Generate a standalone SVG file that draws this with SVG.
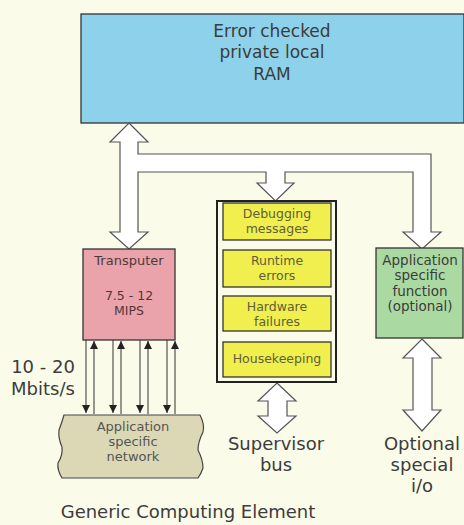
<svg xmlns="http://www.w3.org/2000/svg" width="464" height="525" viewBox="0 0 464 525">
<style>
  text { font-family: "DejaVu Sans", "Liberation Sans", sans-serif; text-anchor: middle; fill: #3c3c3c; }
  .big { font-size: 18px; }
  .ram { font-size: 17px; }
  .sm { font-size: 13px; }
  .yl { font-size: 12.5px; fill: #5e5e3a; }
  .box { stroke: #333; stroke-width: 1.3; }
  .bus { fill: #ffffff; stroke: #555; stroke-width: 1.2; stroke-linejoin: miter; }
  .link { stroke: #333; stroke-width: 1; fill: none; }
</style>
<defs>
  <marker id="ah" viewBox="0 0 8 8" refX="8" refY="4" markerWidth="8" markerHeight="8" markerUnits="userSpaceOnUse" orient="auto">
    <path d="M0,0 L8,4 L0,8 Z" fill="#222"/>
  </marker>
</defs>
<rect x="0" y="0" width="464" height="525" fill="#fbfbea"/>

<g id="ram">
  <rect class="box" x="81" y="14" width="383" height="109" fill="#8dd2ea"/>
  <text class="ram" x="272" y="37">Error checked</text>
  <text class="ram" x="272" y="58">private local</text>
  <text class="ram" x="272" y="80">RAM</text>
</g>

<g id="connectors">
  <path class="bus" d="M129,123 L148,142 L138,142 L138,154 L431,154 L431,232 L441,232 L422,249 L403,232 L413,232 L413,172 L285,172 L285,183 L294,183 L275.5,201 L257,183 L266,183 L266,172 L138,172 L138,232 L148,232 L129,249 L110,232 L120,232 L120,142 L110,142 Z"/>
  <path class="bus" d="M277,383 L296,401 L287,401 L287,416 L296,416 L277,433 L258,416 L268,416 L268,401 L258,401 Z"/>
  <path class="bus" d="M422,339 L441,358 L432,358 L432,410 L441,410 L422,431 L403,410 L413,410 L413,358 L403,358 Z"/>
  <line class="link" x1="86" y1="340" x2="86" y2="413" marker-end="url(#ah)"/>
  <line class="link" x1="94" y1="414" x2="94" y2="341" marker-end="url(#ah)"/>
  <line class="link" x1="113" y1="340" x2="113" y2="413" marker-end="url(#ah)"/>
  <line class="link" x1="121" y1="414" x2="121" y2="341" marker-end="url(#ah)"/>
  <line class="link" x1="140" y1="340" x2="140" y2="413" marker-end="url(#ah)"/>
  <line class="link" x1="148" y1="414" x2="148" y2="341" marker-end="url(#ah)"/>
  <line class="link" x1="167" y1="340" x2="167" y2="413" marker-end="url(#ah)"/>
  <line class="link" x1="175" y1="414" x2="175" y2="341" marker-end="url(#ah)"/>
</g>

<g id="transputer">
  <rect class="box" x="83" y="249" width="92" height="91" fill="#eaa3ab"/>
  <text class="sm" x="129" y="265" style="fill:#503838">Transputer</text>
  <text class="sm" x="129" y="300" style="fill:#503838;font-size:12.5px">7.5 - 12</text>
  <text class="sm" x="129" y="315" style="fill:#503838;font-size:12.5px">MIPS</text>
</g>

<g id="supervisor">
  <rect x="217" y="201" width="119" height="181" fill="#fbfbea" stroke="#222" stroke-width="2"/>
</g>
<g id="debugging">
  <rect class="box" x="223" y="203" width="108" height="37" fill="#f1ef4e"/>
  <text class="yl" x="277" y="218">Debugging</text>
  <text class="yl" x="277" y="233">messages</text>
</g>
<g id="runtime">
  <rect class="box" x="223" y="250" width="108" height="37" fill="#f1ef4e"/>
  <text class="yl" x="277" y="265">Runtime</text>
  <text class="yl" x="277" y="280">errors</text>
</g>
<g id="hardware">
  <rect class="box" x="223" y="296" width="108" height="35" fill="#f1ef4e"/>
  <text class="yl" x="277" y="311">Hardware</text>
  <text class="yl" x="277" y="326">failures</text>
</g>
<g id="housekeeping">
  <rect class="box" x="223" y="342" width="108" height="35" fill="#f1ef4e"/>
  <text class="yl" x="277" y="363">Housekeeping</text>
</g>

<g id="appfunc">
  <rect class="box" x="376" y="248" width="87" height="90" fill="#abd9a2"/>
  <text class="sm" x="420" y="265" style="font-size:13.5px">Application</text>
  <text class="sm" x="420" y="280" style="font-size:13.5px">specific</text>
  <text class="sm" x="420" y="296" style="font-size:13.5px">function</text>
  <text class="sm" x="420" y="311" style="font-size:13.5px">(optional)</text>
</g>

<g id="network">
  <path d="M64,415 L200,415 Q205,425 203,432 Q198,442 198,450 Q203,460 203,468 Q201,474 198,478 L62,478 Q57,470 58,463 Q63,455 62,447 Q58,438 59,430 Q62,422 64,415 Z" fill="#dcd8b6" stroke="#444" stroke-width="1.2"/>
  <text class="sm" x="133" y="431" style="fill:#555">Application</text>
  <text class="sm" x="133" y="446" style="fill:#555">specific</text>
  <text class="sm" x="133" y="461" style="fill:#555">network</text>
</g>

<g id="labels">
  <text class="big" x="43" y="373">10 - 20</text>
  <text class="big" x="43" y="395">Mbits/s</text>
  <text class="big" x="276" y="450">Supervisor</text>
  <text class="big" x="276" y="471">bus</text>
  <text class="big" x="422" y="450">Optional</text>
  <text class="big" x="422" y="471">special</text>
  <text class="big" x="422" y="492">i/o</text>
  <text class="big" x="188" y="518">Generic Computing Element</text>
</g>
</svg>
